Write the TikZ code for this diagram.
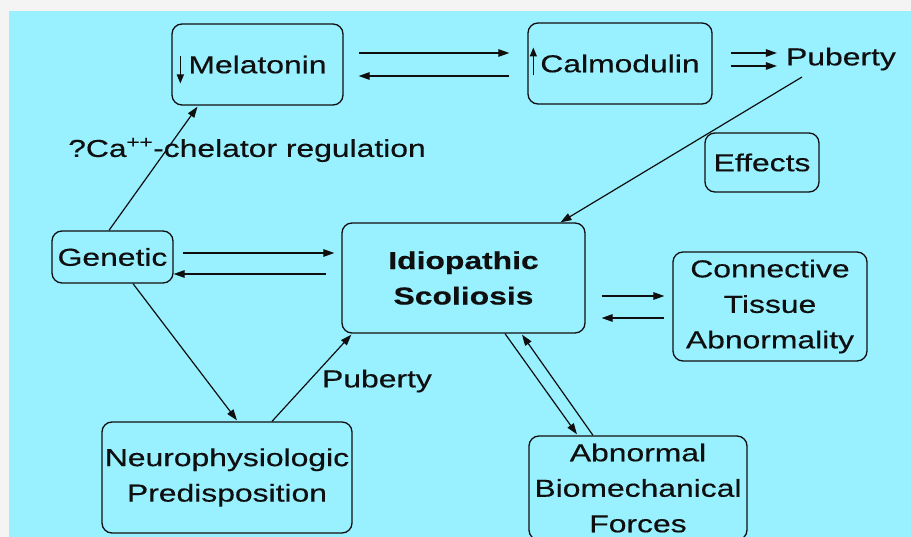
\documentclass[tikz,border=0pt]{standalone}
\usepackage{fontspec}
\setmainfont{Liberation Sans}[FakeStretch=1.3,FakeBold=0.4]
\usetikzlibrary{arrows.meta,calc}
\definecolor{bgcyan}{RGB}{153,240,254}
\definecolor{outerbg}{RGB}{244,244,244}
\definecolor{ink}{RGB}{15,15,15}
\begin{document}
\begin{tikzpicture}[x=1pt,y=-1pt,
  box/.style={draw=ink, line width=1.3pt, rounded corners=10pt, align=center, inner sep=0pt, text=ink, font=\fontsize{24.5}{35.5}\selectfont},
  lbl/.style={inner sep=0pt, text=ink, font=\fontsize{24.5}{35.5}\selectfont},
  conn/.style={draw=ink, line width=1.2pt, -{Triangle[length=11pt,width=7.5pt]}},
  glyph/.style={draw=ink, line width=1.3pt, -{Triangle[length=9pt,width=7pt]}}]
\useasboundingbox (0,0) rectangle (911,537);
\fill[outerbg] (0,0) rectangle (911,537);
\fill[bgcyan] (9,11) rectangle (911,537);
\begin{scope}
\clip (0,0) rectangle (911,537);
% nodes
\node[box, minimum width=171pt, minimum height=81pt] (mel) at (257.5,64.5) {Melatonin};
\node[box, minimum width=184pt, minimum height=81pt] (cal) at (620,63.5) {Calmodulin};
\node[lbl] (pub1) at (841,59) {Puberty};
\node[box, minimum width=114pt, minimum height=59pt] (eff) at (762,162.5) {Effects};
\node[box, minimum width=243pt, minimum height=110pt] (idio) at (463.5,278) {\bfseries Idiopathic\\\bfseries Scoliosis};
\node[box, minimum width=121pt, minimum height=52pt] (gen) at (112.5,257) {Genetic};
\node[box, minimum width=194pt, minimum height=109pt] (con) at (770,306.5) {Connective\\Tissue\\Abnormality};
\node[box, minimum width=250pt, minimum height=111pt] (neu) at (227,477.5) {Neurophysiologic\\Predisposition};
\node[box, minimum width=218pt, minimum height=104pt] (abn) at (638,488) {Abnormal\\Biomechanical\\Forces};
\node[lbl, anchor=west] (ca) at (68,150) {?Ca\textsuperscript{++}-chelator regulation};
\node[lbl] (pub2) at (377,381) {Puberty};
% glyph arrows inside boxes
\draw[glyph] ($(mel.west)+(9,-8)$) -- ($(mel.west)+(9,19)$);
\draw[glyph] ($(cal.west)+(6,12)$) -- ($(cal.west)+(6,-16)$);
% connectors
\draw[conn] ($(mel.east)+(15,-11.5)$) -- ($(cal.west)+(-18,-10.5)$);
\draw[conn] ($(cal.west)+(-18,12.5)$) -- ($(mel.east)+(15,11.5)$);
\draw[conn] ($(cal.east)+(18,-10.5)$) -- ($(pub1.west)+(-9,-6)$);
\draw[conn] ($(cal.east)+(18,2.5)$) -- ($(pub1.west)+(-9,7)$);
\draw[conn] ($(pub1.center)+(-39,18)$) -- ($(idio.north)+(97,0)$);
\draw[conn] ($(gen.east)+(9,-4)$) -- ($(idio.west)+(-7,-25)$);
\draw[conn] ($(idio.west)+(-15,-4)$) -- ($(gen.east)+(0,17)$);
\draw[conn] ($(gen.north)+(-3.5,0)$) -- ($(mel.south)+(-60,1)$);
\draw[conn] ($(gen.south)+(20.5,0)$) -- ($(neu.north)+(10,-1)$);
\draw[conn] ($(neu.north)+(45,0)$) -- ($(idio.south west)+(10,1)$);
\draw[conn] ($(idio.south)+(41.5,0)$) -- ($(abn.north)+(-61,-1)$);
\draw[conn] ($(abn.north)+(-45,0)$) -- ($(idio.south)+(58.5,1)$);
\draw[conn] ($(idio.east)+(16,18)$) -- ($(con.west)+(-8,-10.5)$);
\draw[conn] ($(con.west)+(-8,11.5)$) -- ($(idio.east)+(16,40)$);
\end{scope}
\end{tikzpicture}
\end{document}
